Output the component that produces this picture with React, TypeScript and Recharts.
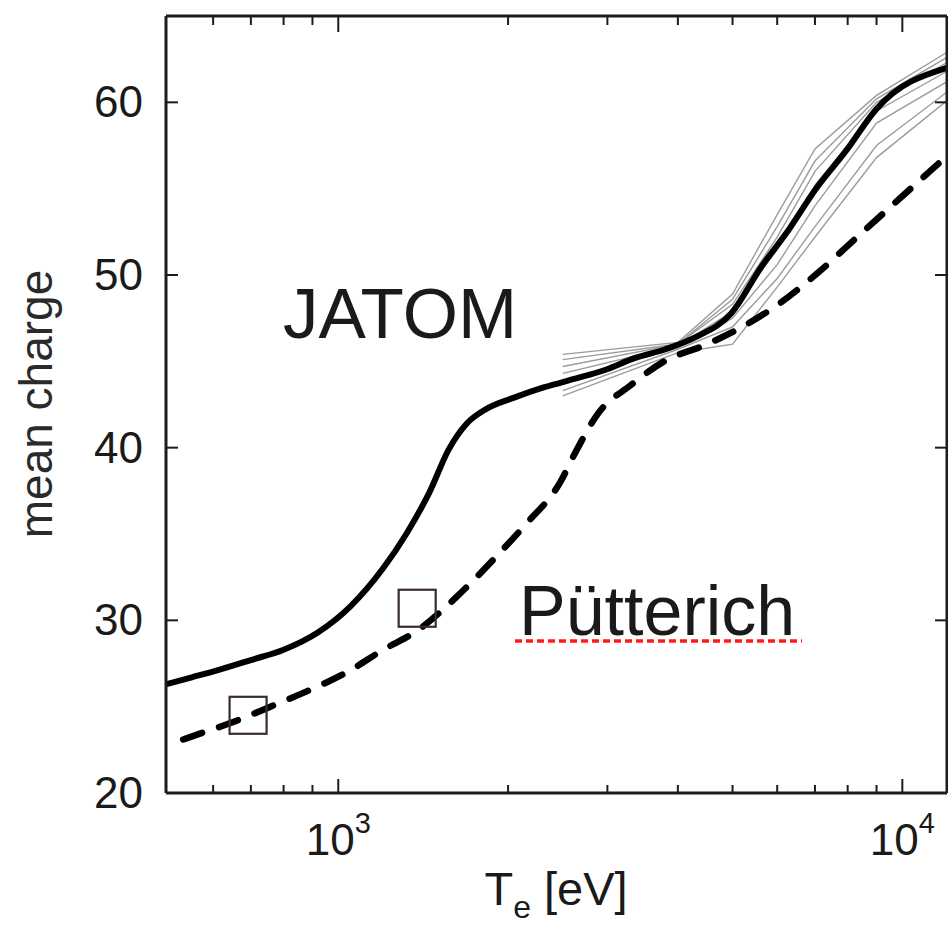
import React from 'react';
import { ComposedChart, Line, Scatter, XAxis, YAxis, Customized } from 'recharts';

// ---- data ----
const jatomT = [495, 550, 610, 700, 800, 920, 1050, 1200, 1320, 1450, 1570, 1690, 1820, 2050, 2320, 2630, 2970, 3360, 3800, 4300, 4980, 5630, 6220, 7030, 7950, 8990, 12000];
const jatomZ = [26.3, 26.7, 27.1, 27.7, 28.3, 29.3, 30.8, 33.0, 35.0, 37.4, 39.9, 41.4, 42.2, 42.9, 43.5, 44.0, 44.5, 45.2, 45.7, 46.4, 47.8, 50.5, 52.4, 55.0, 57.2, 59.6, 62.0];

const puetterichT = [531, 576, 662, 758, 881, 1037, 1202, 1380, 1626, 1906, 2155, 2475, 2630, 2891, 3294, 3831, 4438, 5204, 6028, 7068, 8254, 12000];
const puetterichZ = [23.1, 23.5, 24.2, 25.0, 25.9, 27.0, 28.3, 29.4, 31.4, 33.7, 35.6, 38.0, 39.7, 42.0, 43.6, 45.1, 45.9, 47.0, 48.3, 50.1, 52.1, 56.9];

const grayT = [2500, 4000, 5000, 6000, 7000, 9000, 12000];
const gray1 = [45.4, 46.1, 48.9, 53.5, 57.3, 60.4, 62.9];
const gray2 = [45.1, 46.0, 48.6, 52.8, 56.6, 60.2, 62.6];
const gray3 = [44.7, 46.0, 48.3, 52.2, 56.0, 60.0, 62.3];
const gray4 = [44.3, 45.9, 47.9, 51.5, 55.2, 59.5, 61.8];
const gray5 = [43.8, 45.8, 47.5, 50.6, 54.0, 58.8, 61.2];
const gray6 = [43.3, 45.7, 47.0, 49.8, 52.8, 57.5, 60.6];
const gray7 = [43.0, 45.5, 46.0, 49.3, 52.2, 56.8, 60.1];
const grayRuns = [gray1, gray2, gray3, gray4, gray5, gray6, gray7];

const squareT = [692, 1380];
const squareZ = [24.5, 30.7];

const xMajorTicks = [1000, 10000];
const xMinorTicks = [600, 700, 800, 900, 2000, 3000, 4000, 5000, 6000, 7000, 8000, 9000];
const xTicks = [...xMinorTicks, ...xMajorTicks].sort((a, b) => a - b);
const yTicks = [20, 30, 40, 50, 60];
const xDomain = [495, 12000];
const yDomain = [20, 65];

const toPoints = (xs: number[], ys: number[]) => xs.map((x, i) => ({ x, y: ys[i] }));

const FONT = "'Liberation Sans', Arial, Helvetica, sans-serif";
const AXIS = '#1c1c1c';
const TEXT = '#1a1a1a';

const BottomTick = (props: any) => {
  const { x, y, payload } = props;
  const major = xMajorTicks.includes(payload.value);
  const exp = Math.round(Math.log10(payload.value));
  return (
    <g>
      <line x1={x} x2={x} y1={y} y2={y - (major ? 14 : 8)} stroke={AXIS} strokeWidth={2} />
      {major && (
        <text x={x} y={y + 62} textAnchor="middle" fontSize={44} fill={TEXT} fontFamily={FONT}>
          10<tspan fontSize={29} dy={-22}>{exp}</tspan>
        </text>
      )}
    </g>
  );
};

const TopTick = (props: any) => {
  const { x, y, payload } = props;
  const major = xMajorTicks.includes(payload.value);
  return <line x1={x} x2={x} y1={y} y2={y + (major ? 16 : 9)} stroke={AXIS} strokeWidth={2} />;
};

const LeftTick = (props: any) => {
  const { x, y, payload } = props;
  return (
    <g>
      <line x1={x} x2={x + 12} y1={y} y2={y} stroke={AXIS} strokeWidth={2} />
      <text x={x - 23} y={y + 15} textAnchor="end" fontSize={44} fill={TEXT} fontFamily={FONT}>
        {payload.value}
      </text>
    </g>
  );
};

const RightTick = (props: any) => {
  const { x, y } = props;
  return <line x1={x} x2={x - 12} y1={y} y2={y} stroke={AXIS} strokeWidth={2} />;
};

const SquareShape = (props: any) => {
  const { cx, cy } = props;
  const s = 37;
  return <rect x={cx - s / 2} y={cy - s / 2} width={s} height={s} fill="none" stroke="#3a2c2c" strokeWidth={2.2} />;
};

const Annotations = () => (
  <g fontFamily={FONT} fill={TEXT}>
    <text x={52} y={404} transform="rotate(-90 52 404)" textAnchor="middle" fontSize={46} fill="#2a2a2a">
      mean charge
    </text>
    <text x={556} y={905} textAnchor="middle" fontSize={47} style={{ whiteSpace: 'pre' }}>
      T<tspan fontSize={32} dy={13}>e</tspan><tspan dy={-13}>{' [eV]'}</tspan>
    </text>
    <text x={283} y={338} fontSize={71}>JATOM</text>
    <text x={519} y={635} fontSize={70}>Pütterich</text>
    <line x1={515} x2={802} y1={641} y2={641} stroke="#ff1a1a" strokeWidth={3.5} strokeDasharray="7 4" />
  </g>
);

export default function App() {
  return (
    <div style={{ position: 'absolute', left: 0, top: 0, width: 948, height: 929, overflow: 'hidden' }}>
      <ComposedChart width={948} height={929} margin={{ top: 15, right: 0, bottom: 0, left: 0 }}>
        <XAxis
          dataKey="x"
          type="number"
          scale="log"
          domain={xDomain}
          allowDataOverflow
          ticks={xTicks}
          interval={0}
          tickSize={0}
          tickMargin={0}
          tick={<BottomTick />}
          tickLine={false}
          axisLine={{ stroke: AXIS, strokeWidth: 3 }}
          height={136}
        />
        <XAxis
          xAxisId="top"
          orientation="top"
          dataKey="x"
          type="number"
          scale="log"
          domain={xDomain}
          allowDataOverflow
          ticks={xTicks}
          interval={0}
          tickSize={0}
          tickMargin={0}
          tick={<TopTick />}
          tickLine={false}
          axisLine={{ stroke: AXIS, strokeWidth: 3 }}
          height={1}
        />
        <YAxis
          type="number"
          domain={yDomain}
          allowDataOverflow
          ticks={yTicks}
          interval={0}
          tickSize={0}
          tickMargin={0}
          tick={<LeftTick />}
          tickLine={false}
          axisLine={{ stroke: AXIS, strokeWidth: 3 }}
          width={166}
        />
        <YAxis
          yAxisId="right"
          orientation="right"
          type="number"
          domain={yDomain}
          allowDataOverflow
          ticks={yTicks}
          interval={0}
          tickSize={0}
          tickMargin={0}
          tick={<RightTick />}
          tickLine={false}
          axisLine={{ stroke: AXIS, strokeWidth: 3 }}
          width={1}
        />
        <Line
          xAxisId="top"
          yAxisId="right"
          data={toPoints(squareT, squareZ)}
          dataKey="y"
          stroke="none"
          dot={false}
          activeDot={false}
          isAnimationActive={false}
        />
        {grayRuns.map((run, i) => (
          <Line
            key={'g' + i}
            data={toPoints(grayT, run)}
            dataKey="y"
            type="linear"
            stroke="#9c9c9c"
            strokeWidth={1.4}
            dot={false}
            isAnimationActive={false}
          />
        ))}
        <Line
          data={toPoints(jatomT, jatomZ)}
          dataKey="y"
          type="monotoneX"
          stroke="#000"
          strokeWidth={6}
          dot={false}
          isAnimationActive={false}
        />
        <Line
          data={toPoints(puetterichT, puetterichZ)}
          dataKey="y"
          type="monotoneX"
          stroke="#000"
          strokeWidth={6.5}
          strokeDasharray="20 18"
          strokeLinecap="round"
          dot={false}
          isAnimationActive={false}
        />
        <Scatter
          data={toPoints(squareT, squareZ)}
          dataKey="y"
          shape={<SquareShape />}
          isAnimationActive={false}
        />
        <Customized component={Annotations} />
      </ComposedChart>
    </div>
  );
}
